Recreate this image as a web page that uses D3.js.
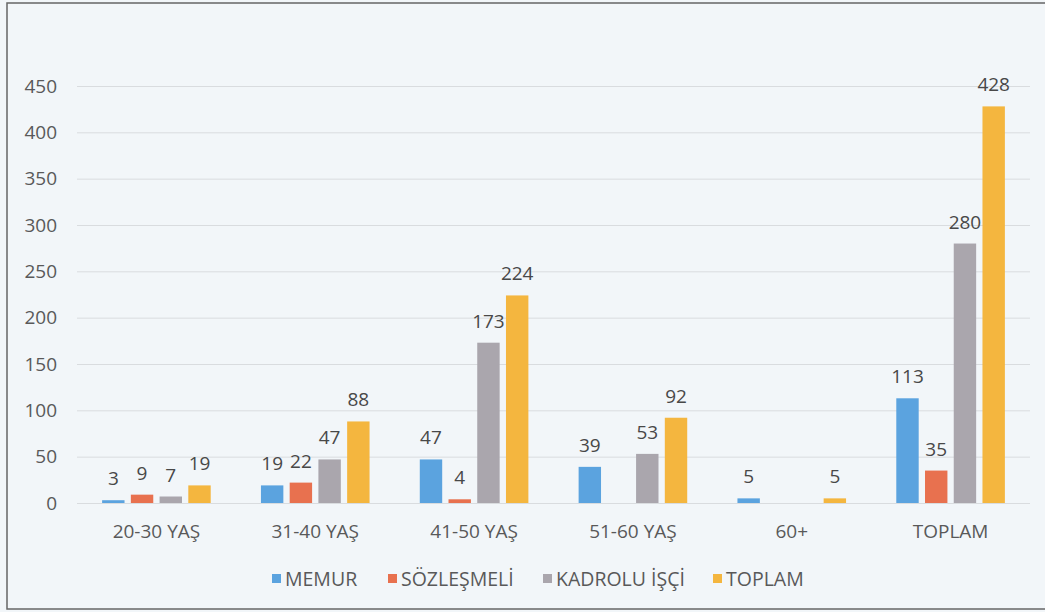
<!DOCTYPE html>
<html>
<head>
<meta charset="utf-8">
<script src="https://cdn.jsdelivr.net/npm/d3@7"></script>
<style>
  body { margin: 0; background: #f2f6f9; }
  svg { display: block; font-family: "Open Sans", sans-serif; }
</style>
</head>
<body>
<svg id="chart" width="1045" height="612"></svg>
<script>
var categories = ["20-30 YAŞ", "31-40 YAŞ", "41-50 YAŞ", "51-60 YAŞ", "60+", "TOPLAM"];
var seriesNames = ["MEMUR", "SÖZLEŞMELİ", "KADROLU İŞÇİ", "TOPLAM"];
var memur = [3, 19, 47, 39, 5, 113];
var sozlesmeli = [9, 22, 4, null, null, 35];
var kadrolu = [7, 47, 173, 53, null, 280];
var toplam = [19, 88, 224, 92, 5, 428];
var yTicks = [0, 50, 100, 150, 200, 250, 300, 350, 400, 450];
var colors = ["#5ba3df", "#e8714f", "#aaa6ad", "#f4b63f"];

var seriesValues = [memur, sozlesmeli, kadrolu, toplam];
var fontSize = "19px";

var svg = d3.select("#chart");

// scanned page frame
svg.append("rect")
  .attr("x", 7).attr("y", 3)
  .attr("width", 1060).attr("height", 606)
  .attr("fill", "#f2f6f9")
  .attr("stroke", "#666")
  .attr("stroke-width", 1.5);

var x0 = d3.scaleBand().domain(categories).range([77, 1030]);
var groupW = 108.6;
var x1 = d3.scaleBand().domain(seriesNames).range([0, groupW]).paddingInner(0.22);
var groupOffset = (x0.bandwidth() - groupW) / 2;

var y = d3.scaleLinear().domain([0, 450]).range([503, 86]);

// gridlines + y labels
var yAxis = svg.append("g")
  .attr("transform", "translate(77,0)")
  .call(d3.axisLeft(y).tickValues(yTicks).tickSize(-953).tickPadding(20));
yAxis.select(".domain").remove();
yAxis.selectAll(".tick line").attr("stroke", "#d9dcdf").attr("stroke-width", 1);
yAxis.selectAll(".tick text")
  .attr("fill", "#595959")
  .style("font-size", fontSize)
  .style("font-family", "'Open Sans', sans-serif");

// x axis labels
var xAxis = svg.append("g")
  .attr("transform", "translate(0,503)")
  .call(d3.axisBottom(x0).tickSize(0).tickPadding(22));
xAxis.select(".domain").remove();
xAxis.selectAll(".tick text")
  .attr("fill", "#595959")
  .style("font-size", fontSize)
  .style("font-family", "'Open Sans', sans-serif");

// bars
var rows = [];
categories.forEach(function(c, i) {
  seriesNames.forEach(function(s, j) {
    if (seriesValues[j][i] != null) {
      rows.push({ cat: c, series: s, idx: j, value: seriesValues[j][i] });
    }
  });
});

var bx = function(d) {
  return x0(d.cat) + groupOffset + x1(d.series);
};

svg.selectAll(".bar")
  .data(rows)
  .enter()
  .append("rect")
  .attr("class", "bar")
  .attr("x", bx)
  .attr("y", function(d) { return y(d.value); })
  .attr("width", x1.bandwidth())
  .attr("height", function(d) { return Math.max(y(0) - y(d.value), 1); })
  .attr("fill", function(d) { return colors[d.idx]; });

svg.selectAll(".lbl")
  .data(rows)
  .enter()
  .append("text")
  .attr("class", "lbl")
  .attr("x", function(d) { return bx(d) + x1.bandwidth() / 2; })
  .attr("y", function(d) { return y(d.value) - 15; })
  .attr("text-anchor", "middle")
  .attr("fill", "#484848")
  .style("font-size", fontSize)
  .text(function(d) { return d.value; });

// legend
var legendX = [272, 388, 543, 713];
var legend = svg.selectAll(".leg")
  .data(seriesNames)
  .enter()
  .append("g")
  .attr("class", "leg")
  .attr("transform", function(d, i) { return "translate(" + legendX[i] + ",574)"; });
legend.append("rect")
  .attr("width", 9).attr("height", 9)
  .attr("fill", function(d, i) { return colors[i]; });
legend.append("text")
  .attr("x", 13).attr("y", 12)
  .attr("fill", "#595959")
  .style("font-size", "19.5px")
  .text(function(d) { return d; });
</script>
</body>
</html>
